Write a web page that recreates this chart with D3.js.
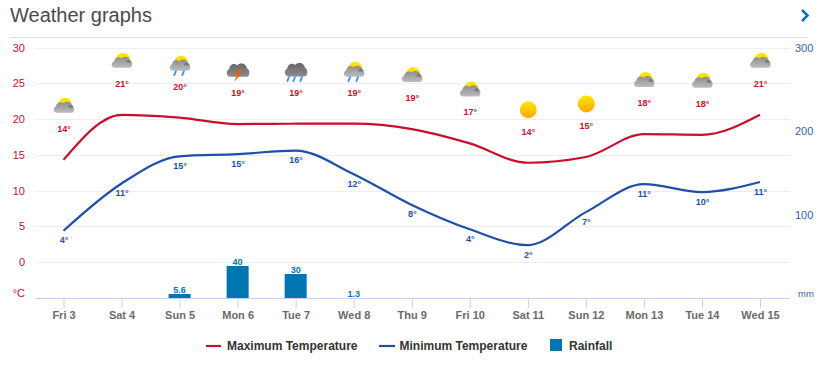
<!DOCTYPE html>
<html><head><meta charset="utf-8">
<script src="https://cdn.jsdelivr.net/npm/d3@7/dist/d3.min.js"></script>
<style>html,body{margin:0;padding:0;background:#fff}svg{display:block;font-family:"Liberation Sans",Arial,sans-serif}</style>
</head><body><svg id="c" width="826" height="366"></svg>
<script>
const days=["Fri 3","Sat 4","Sun 5","Mon 6","Tue 7","Wed 8","Thu 9","Fri 10","Sat 11","Sun 12","Mon 13","Tue 14","Wed 15"];
const maxTemp=[14.3,20.6,20.2,19.3,19.35,19.35,18.6,16.6,13.9,14.7,17.9,17.8,20.6];
const minTemp=[4.4,11,14.8,15.1,15.6,12.3,8,4.6,2.4,7,10.9,9.8,11.2];
const maxLabels=[14,21,20,19,19,19,19,17,14,15,18,18,21];
const minLabels=[4,11,15,15,16,12,8,4,2,7,11,10,11];
const rainfall=[0,0,5.6,40,30,1.3,0,0,0,0,0,0,0];
const rainLabels=["","","5.6","40","30","1.3","","","","","","",""];
const icons=["partly","partly","partlyRain","storm","showers","partlyRain","partly","partly","sun","sun","partly","partly","partly"];
const tempTicks=[0,5,10,15,20,25,30];
const rainTicks=[100,200,300];
const legendItems=["Maximum Temperature","Minimum Temperature","Rainfall"];

const RED="#c8102e",BLUE="#1f4fa8",BAR="#0075b0";
const svg=d3.select("#c");
const x=d3.scalePoint().domain(days).range([63.5,760]);
const y=d3.scaleLinear().domain([-5,30]).range([298,47.5]);
const yr=d3.scaleLinear().domain([0,300]).range([298,47.5]);
const barH=v=>Math.max(0,Math.round(yr(0)-yr(v)-1));

const defs=svg.append("defs");
function grad(id,a,b){const g=defs.append("linearGradient").attr("id",id).attr("x1",0).attr("y1",0).attr("x2",0).attr("y2",1);
 g.append("stop").attr("offset",0).attr("stop-color",a);g.append("stop").attr("offset",1).attr("stop-color",b);}
grad("cl","#8c8c8c","#bdbdc2");grad("dk","#666","#8c8c8c");grad("sn","#ffe600","#ffa800");grad("sm","#ffe600","#ffd000");

// header
svg.append("text").attr("x",10).attr("y",22).attr("font-size",20).attr("fill","#4a4a4a").text("Weather graphs");
svg.append("line").attr("x1",10).attr("x2",808).attr("y1",37.5).attr("y2",37.5).attr("stroke","#ddd");
svg.append("path").attr("d","M802 10 L807.5 15.5 L802 21").attr("fill","none").attr("stroke","#0077b0").attr("stroke-width",2.5);

// grid
svg.append("g").selectAll("line").data(tempTicks).join("line")
 .attr("x1",35).attr("x2",790).attr("y1",d=>Math.round(y(d))+.5).attr("y2",d=>Math.round(y(d))+.5).attr("stroke","#eee");

// axes
const gx=svg.append("g").attr("transform","translate(0,298)").call(d3.axisBottom(x).tickSize(10).tickPadding(3));
gx.select(".domain").attr("d","M35 0.5H790").attr("stroke","#c5d3ee");
gx.selectAll(".tick line").attr("stroke","#c5d3ee");
gx.selectAll("text").attr("font-size",11).attr("font-weight","bold").attr("font-family","Liberation Sans").attr("fill","#6a6a6a");

const gl=svg.append("g").attr("transform","translate(25,0)").call(d3.axisLeft(y).tickValues(tempTicks).tickSize(0).tickPadding(0));
gl.select(".domain").remove();
gl.selectAll("text").attr("font-size",11).attr("font-family","Liberation Sans").attr("fill",RED);
svg.append("text").attr("x",25).attr("y",297).attr("text-anchor","end").attr("font-size",11).attr("fill",RED).text("°C");

const gr=svg.append("g").attr("transform","translate(795,0)").call(d3.axisRight(yr).tickValues(rainTicks).tickSize(0).tickPadding(0));
gr.select(".domain").remove();
gr.selectAll("text").attr("font-size",11).attr("font-family","Liberation Sans").attr("fill","#3560b0");
svg.append("text").attr("x",798).attr("y",297).attr("font-size",9.5).attr("fill","#3560b0").text("mm");

// bars
svg.append("g").selectAll("rect").data(rainfall.map((v,i)=>({v,d:days[i]})).filter(d=>d.v>0)).join("rect")
 .attr("x",d=>x(d.d)-11).attr("width",22).attr("y",d=>298-barH(d.v)).attr("height",d=>barH(d.v)).attr("fill",BAR);
svg.append("g").selectAll("text").data(rainLabels.map((t,i)=>({t,d:days[i],v:rainfall[i]})).filter(d=>d.t)).join("text")
 .attr("x",d=>x(d.d)).attr("y",d=>298-barH(d.v)-1).attr("text-anchor","middle").attr("font-size",9).attr("font-weight","bold").attr("fill",BAR).text(d=>d.t);

// lines
const ln=d3.line().x((d,i)=>x(days[i])).y(d=>y(d)).curve(d3.curveMonotoneX);
svg.append("path").attr("d",ln(maxTemp)).attr("fill","none").attr("stroke",RED).attr("stroke-width",2.2);
svg.append("path").attr("d",ln(minTemp)).attr("fill","none").attr("stroke",BLUE).attr("stroke-width",2.2);

// temperature labels
svg.append("g").selectAll("text").data(maxLabels).join("text")
 .attr("x",(d,i)=>x(days[i])+.5).attr("y",(d,i)=>y(maxTemp[i])-28).attr("text-anchor","middle").attr("font-size",9).attr("font-weight","bold").attr("fill",RED).text(d=>d+"°");
svg.append("g").selectAll("text").data(minLabels).join("text")
 .attr("x",(d,i)=>x(days[i])+.5).attr("y",(d,i)=>y(minTemp[i])+12.5).attr("text-anchor","middle").attr("font-size",9).attr("font-weight","bold").attr("fill",BLUE).text(d=>d+"°");

// icons
const cloud="M-7 6 C-11 6 -11.5 1 -8 -0.5 C-8 -4 -3.5 -6 -1 -3.5 C2 -6.5 7.5 -5 8 -1 C11 -0.5 11 6 7.5 6 Z";
function drops(g,xs){xs.forEach(dx=>g.append("path").attr("d",`M${dx+.8} 6.5 L${dx-.8} 10.5`).attr("stroke","#3f97ea").attr("stroke-width",1.9).attr("stroke-linecap","round"));}
const ig=svg.append("g").selectAll("g").data(icons).join("g")
 .attr("transform",(d,i)=>`translate(${x(days[i])+.5},${y(maxTemp[i])-53})`);
ig.each(function(k){
 const g=d3.select(this);
 if(k==="sun"){g.append("circle").attr("r",8.5).attr("fill","url(#sn)");return;}
 if(k==="partly"||k==="partlyRain"){
  g.append("circle").attr("cx",1).attr("cy",-2).attr("r",7).attr("fill","url(#sm)");
  g.append("path").attr("d",cloud).attr("fill","url(#cl)");
  g.append("ellipse").attr("cx",6.5).attr("cy",-.5).attr("rx",2.5).attr("ry",1.6).attr("fill","#7d7d7d");
  if(k==="partlyRain")drops(g,[-5,3]);
  return;}
 g.append("path").attr("d",cloud).attr("transform","translate(0,-1.5) scale(1.1,1.2)").attr("fill","url(#dk)");
 if(k==="showers")drops(g,[-8,-2,5]);
 if(k==="storm")g.append("path").attr("d","M1.5 -2 L-3.5 3.5 L-1 3.5 L-4 11 L3.5 2 L0.5 2 L3.5 -2 Z").attr("fill","#f25a00");
});

// legend
svg.append("line").attr("x1",206).attr("x2",221).attr("y1",346).attr("y2",346).attr("stroke",RED).attr("stroke-width",2.2);
svg.append("line").attr("x1",379).attr("x2",395).attr("y1",346).attr("y2",346).attr("stroke",BLUE).attr("stroke-width",2.2);
svg.append("rect").attr("x",550).attr("y",339).attr("width",12).attr("height",12).attr("fill",BAR);
const legX=[227,399.5,569];
svg.append("g").selectAll("text").data(legendItems).join("text")
 .attr("x",(d,i)=>legX[i]).attr("y",350).attr("font-size",12).attr("font-weight","bold").attr("fill","#333").text(d=>d);
</script></body></html>
